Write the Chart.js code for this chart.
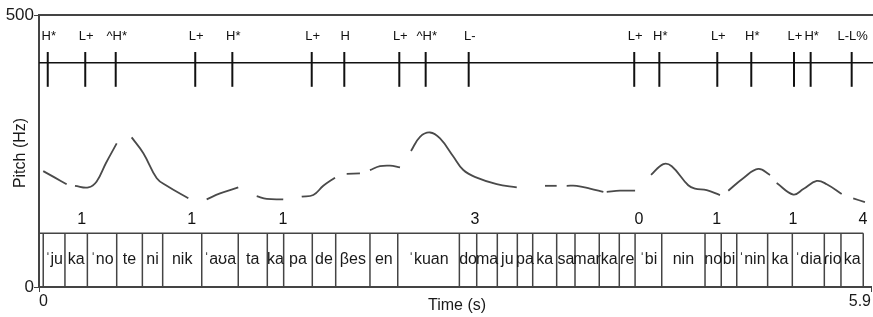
<!DOCTYPE html>
<html>
<head>
<meta charset="utf-8">
<script src="https://cdn.jsdelivr.net/npm/chart.js@4"></script>
<style>
html, body { margin: 0; padding: 0; background: #fff; }
#wrap { width: 873px; height: 317px; }
</style>
</head>
<body>
<div id="wrap"><canvas id="pitch-chart"></canvas></div>
<script>
// pitch track (s, Hz); null Hz = unvoiced gap
const pitchTimes = [0.030, 0.113, 0.196, 0.22,
    0.255, 0.350, 0.409, 0.475, 0.551, 0.60,
    0.657, 0.740, 0.835, 0.906, 1.059, 1.12,
    1.189, 1.284, 1.413, 1.48,
    1.544, 1.615, 1.732, 1.80,
    1.863, 1.945, 2.016, 2.099, 2.14,
    2.182, 2.276, 2.31,
    2.347, 2.418, 2.489, 2.560, 2.60,
    2.638, 2.702, 2.773, 2.844, 2.938, 3.009, 3.104, 3.246, 3.388, 3.50,
    3.588, 3.671, 3.70,
    3.742, 3.813, 3.907, 4.002, 4.014,
    4.026, 4.120, 4.227, 4.28,
    4.340, 4.427, 4.487, 4.604, 4.652, 4.735, 4.829, 4.86,
    4.888, 4.994, 5.101, 5.184, 5.21,
    5.231, 5.349, 5.420, 5.515, 5.586, 5.692, 5.73,
    5.774, 5.857];
const pitchHz = [213, 201, 189, null,
    186, 183, 194, 228, 264, null,
    275, 246, 200, 186, 163, null,
    161, 172, 183, null,
    167, 162, 161, null,
    166, 169, 186, 201, null,
    208, 209, null,
    215, 222, 223, 220, null,
    250, 276, 284, 273, 240, 215, 201, 189, 183, null,
    186, 186, null,
    186, 186, 181, 175, null,
    175, 177, 177, null,
    206, 226, 222, 187, 181, 178, 169, null,
    177, 200, 217, 206, null,
    191, 170, 180, 195, 189, 171, null,
    163, 156];

const toneTimes = [0.062, 0.328, 0.544, 1.108, 1.371, 1.934, 2.165, 2.555, 2.742, 3.047,
    4.221, 4.399, 4.810, 5.051, 5.354, 5.472, 5.763];
const toneLabels = ['H*', 'L+', '^H*', 'L+', 'H*', 'L+', 'H', 'L+', '^H*', 'L-',
    'L+', 'H*', 'L+', 'H*', 'L+', 'H*', 'L-L%'];

const sylBounds = [0.030, 0.184, 0.343, 0.551, 0.733, 0.877, 1.154, 1.413, 1.619, 1.735,
    1.938, 2.104, 2.347, 2.544, 2.981, 3.104, 3.250, 3.392, 3.501, 3.671, 3.801, 3.973,
    4.115, 4.227, 4.416, 4.723, 4.838, 4.948, 5.167, 5.342, 5.569, 5.687, 5.845];
const sylLabels = ['ˈju', 'ka', 'ˈno', 'te', 'ni', 'nik', 'ˈaʊa', 'ta', 'ka', 'pa',
    'de', 'βes', 'en', 'ˈkuan', 'do', 'ma', 'ju', 'pa', 'ka', 'sa', 'mar', 'ka',
    'ɾe', 'ˈbi', 'nin', 'no', 'bi', 'ˈnin', 'ka', 'ˈdia', 'ɾio', 'ka'];

const breakTimes = [0.303, 1.083, 1.730, 3.092, 4.255, 4.806, 5.347, 5.843];
const breakLabels = ['1', '1', '1', '3', '0', '1', '1', '4'];

const yTicks = [0, 500];
const xTicks = [0, 5.9];

const font = "'Liberation Sans', Arial, sans-serif";

// split the track into voiced pieces
const segments = [];
let cur = [];
pitchTimes.forEach((t, i) => {
    if (pitchHz[i] === null) {
        if (cur.length) segments.push(cur);
        cur = [];
    } else {
        cur.push({x: t, y: pitchHz[i]});
    }
});
if (cur.length) segments.push(cur);

const tierPlugin = {
    id: 'tiers',
    afterDatasetsDraw(chart) {
        const {ctx, chartArea: a, scales: {x, y}} = chart;
        const W = chart.width;
        ctx.save();

        // top frame line
        ctx.strokeStyle = '#444';
        ctx.lineWidth = 2;
        ctx.beginPath();
        ctx.moveTo(a.left, y.getPixelForValue(500));
        ctx.lineTo(W, y.getPixelForValue(500));
        ctx.stroke();

        // tone tier
        const lineY = y.getPixelForValue(412);
        ctx.strokeStyle = '#111';
        ctx.lineWidth = 1.5;
        ctx.beginPath();
        ctx.moveTo(a.left, lineY);
        ctx.lineTo(W, lineY);
        ctx.stroke();
        ctx.lineWidth = 2;
        ctx.fillStyle = '#111';
        ctx.font = '13px ' + font;
        ctx.textAlign = 'center';
        ctx.textBaseline = 'middle';
        toneTimes.forEach((t, i) => {
            const px = x.getPixelForValue(t);
            ctx.beginPath();
            ctx.moveTo(px, y.getPixelForValue(432));
            ctx.lineTo(px, y.getPixelForValue(368));
            ctx.stroke();
            ctx.fillText(toneLabels[i], px + 1, y.getPixelForValue(460));
        });

        // break indices
        ctx.font = '16px ' + font;
        breakTimes.forEach((t, i) => {
            ctx.fillText(breakLabels[i], x.getPixelForValue(t), y.getPixelForValue(123));
        });

        // syllable tier
        const topY = y.getPixelForValue(99);
        const botY = y.getPixelForValue(0);
        ctx.strokeStyle = '#444';
        ctx.lineWidth = 1.5;
        ctx.beginPath();
        ctx.moveTo(a.left, topY);
        ctx.lineTo(x.getPixelForValue(sylBounds[sylBounds.length - 1]), topY);
        ctx.stroke();
        sylBounds.forEach(t => {
            const px = x.getPixelForValue(t);
            ctx.beginPath();
            ctx.moveTo(px, topY);
            ctx.lineTo(px, botY);
            ctx.stroke();
        });
        ctx.fillStyle = '#1a1a1a';
        ctx.font = '16px ' + font;
        sylLabels.forEach((s, i) => {
            const mid = (sylBounds[i] + sylBounds[i + 1]) / 2;
            ctx.fillText(s, x.getPixelForValue(mid), y.getPixelForValue(51));
        });

        // axis titles
        ctx.fillStyle = '#1a1a1a';
        ctx.font = '16px ' + font;
        ctx.fillText('Time (s)', (a.left + a.right) / 2 + 2, 306);
        ctx.translate(21, (a.top + a.bottom) / 2 + 2);
        ctx.rotate(-Math.PI / 2);
        ctx.fillText('Pitch (Hz)', 0, 0);
        ctx.restore();
    }
};

new Chart(document.getElementById('pitch-chart'), {
    type: 'line',
    data: {
        datasets: segments.map(seg => ({
            data: seg,
            borderColor: '#4a4a4a',
            borderWidth: 1.8,
            pointRadius: 0,
            tension: 0.4,
            fill: false
        }))
    },
    options: {
        responsive: true,
        maintainAspectRatio: false,
        animation: false,
        layout: {padding: {top: 15, right: 2, left: 0, bottom: 0}},
        plugins: {legend: {display: false}, tooltip: {enabled: false}},
        scales: {
            x: {
                type: 'linear',
                min: 0,
                max: 5.9,
                afterBuildTicks: s => { s.ticks = xTicks.map(v => ({value: v})); },
                afterFit: s => { s.height = 30; },
                border: {display: true, color: '#444', width: 2},
                grid: {display: true, drawOnChartArea: false, drawTicks: true, tickLength: 5, color: '#444'},
                ticks: {
                    align: 'inner',
                    padding: 0,
                    color: '#1a1a1a',
                    font: {family: font, size: 16},
                    maxRotation: 0,
                    callback: v => String(v)
                }
            },
            y: {
                min: 0,
                max: 500,
                afterBuildTicks: s => { s.ticks = yTicks.map(v => ({value: v})); },
                afterFit: s => { s.width = 39; },
                border: {display: true, color: '#444', width: 2},
                grid: {display: true, drawOnChartArea: false, drawTicks: true, tickLength: 5, color: '#444'},
                ticks: {
                    padding: 0,
                    color: '#1a1a1a',
                    font: {family: font, size: 17},
                    callback: v => String(v)
                }
            }
        }
    },
    plugins: [tierPlugin]
});
</script>
</body>
</html>
